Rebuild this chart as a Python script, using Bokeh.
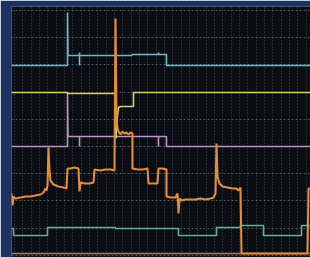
from bokeh.plotting import figure
from bokeh.models import Range1d, FixedTicker
from bokeh.embed import file_html
from bokeh.resources import INLINE

# time axis (sample index) and levels read from the oscilloscope capture
cyan_t = [0, 56, 56, 56.5, 68, 68, 68, 68, 120, 121, 147, 147, 147, 155, 155, 299]
cyan_v = [192, 192, 245, 202, 202, 205, 192, 202, 202, 203, 203, 205, 203, 203, 192, 192]

yellow_t = [0, 56, 56, 104, 104.5, 105.5, 107, 109, 122, 122, 299]
yellow_v = [165, 165, 164, 164, 119, 137, 150, 151, 151, 165, 165]

purple_t = [0, 56, 56, 56.5, 68, 68, 68, 147, 147, 147, 155, 155, 299]
purple_v = [111, 111, 165, 121, 121, 111, 121, 121, 111, 121, 121, 111, 111]

orange_t = [0, 1, 2, 4, 9, 14, 19, 24, 29, 32, 34, 35, 36, 37, 38, 39, 42, 47, 52, 55,
            56, 59, 63, 67, 68, 69, 73, 78, 82, 83, 89, 94, 99, 103, 104, 105, 106,
            107, 109, 111, 113, 115, 117, 119, 121, 121, 126, 131, 136, 137, 142, 146,
            147, 151, 155, 155, 159, 164, 166, 167, 168, 170, 174, 179, 184, 189, 194,
            199, 202, 204, 205, 206, 208, 211, 216, 221, 225, 227, 229, 230, 296, 297, 299]
orange_v = [64, 52, 61, 59, 60, 61, 61, 62, 63, 65, 69, 67, 72, 110, 87, 77, 73, 71, 70, 69,
            89, 89, 90, 89, 66, 75, 74, 74, 75, 88, 87, 88, 88, 87, 239, 137, 129,
            126, 123, 126, 124, 125, 123, 125, 124, 89, 88, 88, 89, 74, 74, 74,
            89, 89, 88, 61, 60, 60, 64, 44, 59, 57, 58, 58, 58, 59, 58,
            59, 60, 64, 114, 81, 74, 71, 70, 69, 69, 67, 70, 4, 4, 69, 69]

green_t = [0, 2, 2, 36, 36, 104, 104, 167, 167, 205, 205, 229, 229, 252, 252, 290, 290, 299]
green_v = [29, 29, 22, 22, 30, 30, 29, 29, 22, 22, 30, 30, 32, 32, 22, 22, 32, 32]

ref_t = [0, 299]
ref_v = [4, 4]

# graticule positions
grid_t = [3 + 25 * k / 3 for k in range(36)]
grid_v = [247 - 27.2 * k for k in range(10)]

p = figure(width=310, height=257, x_range=Range1d(0, 299), y_range=Range1d(0, 251),
           output_backend="svg", toolbar_location=None,
           min_border_left=11, min_border_top=6, min_border_right=0, min_border_bottom=0,
           background_fill_color="#0a0d14", border_fill_color="#1c3263",
           outline_line_color=None)
p.xaxis.visible = False
p.yaxis.visible = False
p.xgrid.ticker = FixedTicker(ticks=grid_t)
p.ygrid.ticker = FixedTicker(ticks=grid_v)
p.xgrid.grid_line_color = "#6a6e76"
p.xgrid.grid_line_alpha = 0.6
p.xgrid.grid_line_dash = "1 2"
p.ygrid.grid_line_color = "#7a7e86"
p.ygrid.grid_line_alpha = 0.6
p.ygrid.grid_line_dash = "2 2"

lw = 1.6
p.line(ref_t, ref_v, line_color="#b27a6c", line_width=lw)
p.line(green_t, green_v, line_color="#62b08c", line_width=lw)
p.line(purple_t, purple_v, line_color="#bb93c4", line_width=lw)
p.line(cyan_t, cyan_v, line_color="#72b9c6", line_width=lw)
p.line(yellow_t, yellow_v, line_color="#d6d269", line_width=lw)
p.line(orange_t, orange_v, line_color="#e48c38", line_width=2.1)

open("out.html", "w").write(file_html(p, INLINE))
